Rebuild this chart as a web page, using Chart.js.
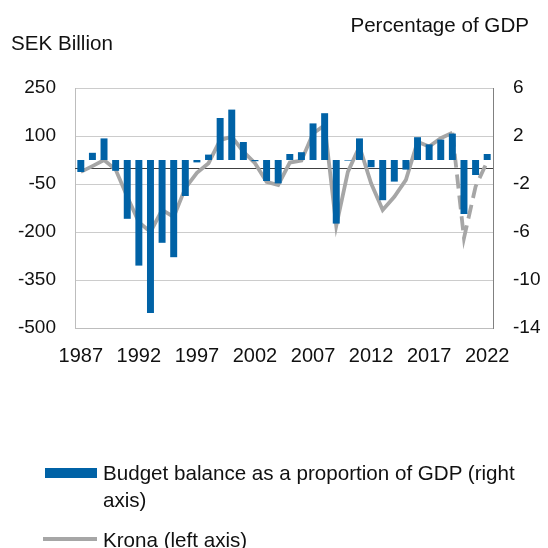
<!DOCTYPE html>
<html>
<head>
<meta charset="utf-8">
<script src="https://cdn.jsdelivr.net/npm/chart.js@4/dist/chart.umd.min.js"></script>
<style>
  html, body { margin: 0; padding: 0; background: #fff; }
  #wrap { position: relative; width: 548px; height: 548px; font-family: "Liberation Sans", Arial, sans-serif; color: #111; }
  #c { position: absolute; left: 0; top: 0; }
  .t { position: absolute; font-size: 20.6px; white-space: nowrap; line-height: 1; }
  .leg { position: absolute; font-size: 20.6px; line-height: 27px; white-space: nowrap; }
</style>
</head>
<body>
<div id="wrap">
  <canvas id="c" width="548" height="548"></canvas>
  <div class="t" style="left:11px; top:33px;">SEK Billion</div>
  <div class="t" style="right:19px; top:15px;">Percentage of GDP</div>
  <div class="leg" style="left:45px; top:468px; width:52px; height:10px; background:#0062a6;"></div>
  <div class="leg" style="left:103px; top:459px;">Budget balance as a proportion of GDP (right<br>axis)</div>
  <div class="leg" style="left:43px; top:537px; width:54px; height:4px; background:#a6a6a6;"></div>
  <div class="leg" style="left:103px; top:526px;">Krona (left axis)</div>
</div>
<script>
const years = ["1987","1988","1989","1990","1991","1992","1993","1994","1995","1996","1997","1998","1999","2000","2001","2002","2003","2004","2005","2006","2007","2008","2009","2010","2011","2012","2013","2014","2015","2016","2017","2018","2019","2020","2021","2022"];
const budgetPctGDP = [-1.0,0.6,1.8,-0.9,-4.9,-8.8,-12.75,-6.9,-8.1,-3.0,-0.2,0.45,3.5,4.2,1.5,-0.1,-1.75,-1.95,0.5,0.65,3.05,3.9,-5.3,-0.05,1.8,-0.6,-3.35,-1.8,-0.8,1.9,1.3,1.7,2.2,-4.5,-1.25,0.5];
const kronaSEKbn = [-12,6,25,-5,-90,-169,-200,-131,-153,-63,-15,15,87,98,51,15,-43,-53,17,23,108,134,-181,-12,67,-48,-131,-90,-37,82,67,93,110,-219,-58,20];
const leftTicks = [-500,-350,-200,-50,100,250];
const rightTicks = [-14,-10,-6,-2,2,6];
const labelEvery = 5;
const forecastFrom = "2019";

const forecastIdx = years.indexOf(forecastFrom);

const zeroLine = {
  id: 'zeroLine',
  beforeDatasetsDraw(chart) {
    const y = chart.scales.yL.getPixelForValue(0);
    const a = chart.chartArea;
    const ctx = chart.ctx;
    ctx.save();
    ctx.strokeStyle = '#404040';
    ctx.lineWidth = 1;
    ctx.beginPath();
    ctx.moveTo(a.left, Math.round(y) + 0.5);
    ctx.lineTo(a.right, Math.round(y) + 0.5);
    ctx.stroke();
    ctx.restore();
  }
};

const tickFont = { family: '"Liberation Sans", Arial, sans-serif', size: 19 };

new Chart(document.getElementById('c'), {
  type: 'bar',
  data: {
    labels: years,
    datasets: [
      {
        type: 'line',
        label: 'Krona (left axis)',
        data: kronaSEKbn,
        yAxisID: 'yL',
        borderColor: '#a6a6a6',
        borderWidth: 3.8,
        pointRadius: 0,
        tension: 0,
        fill: false,
        order: 1,
        segment: {
          borderDash: ctx => ctx.p0DataIndex >= forecastIdx ? [14, 7] : undefined
        }
      },
      {
        type: 'bar',
        label: 'Budget balance as a proportion of GDP (right axis)',
        data: budgetPctGDP,
        yAxisID: 'yR',
        backgroundColor: '#0062a6',
        borderWidth: 0,
        categoryPercentage: 0.8,
        barPercentage: 0.75,
        order: 0
      }
    ]
  },
  options: {
    responsive: false,
    animation: false,
    layout: { padding: { top: 88, bottom: 180, left: 0, right: 0 } },
    plugins: { legend: { display: false }, tooltip: { enabled: false } },
    scales: {
      x: {
        offset: true,
        grid: { display: false, drawTicks: false },
        border: { display: true, color: '#bdbdbd' },
        ticks: {
          autoSkip: false, maxRotation: 0, minRotation: 0, padding: 16,
          color: '#111', font: { ...tickFont, size: 20 },
          callback: function(v, i) { return (i % labelEvery === 0) ? years[i] : ''; }
        },
        afterFit: s => { s.height = 40; }
      },
      yL: {
        position: 'left',
        min: -500, max: 250,
        afterBuildTicks: s => { s.ticks = leftTicks.map(v => ({ value: v })); },
        grid: { color: '#cccccc', lineWidth: 1, drawTicks: false },
        border: { display: true, color: '#bdbdbd' },
        ticks: { color: '#111', font: tickFont, padding: 19 },
        afterFit: s => { s.width = 75; }
      },
      yR: {
        position: 'right',
        min: -14, max: 6,
        afterBuildTicks: s => { s.ticks = rightTicks.map(v => ({ value: v })); },
        grid: { display: false, drawTicks: false },
        border: { display: true, color: '#808080' },
        ticks: { color: '#111', font: tickFont, padding: 20 },
        afterFit: s => { s.width = 55; }
      }
    }
  },
  plugins: [zeroLine]
});
</script>
</body>
</html>
